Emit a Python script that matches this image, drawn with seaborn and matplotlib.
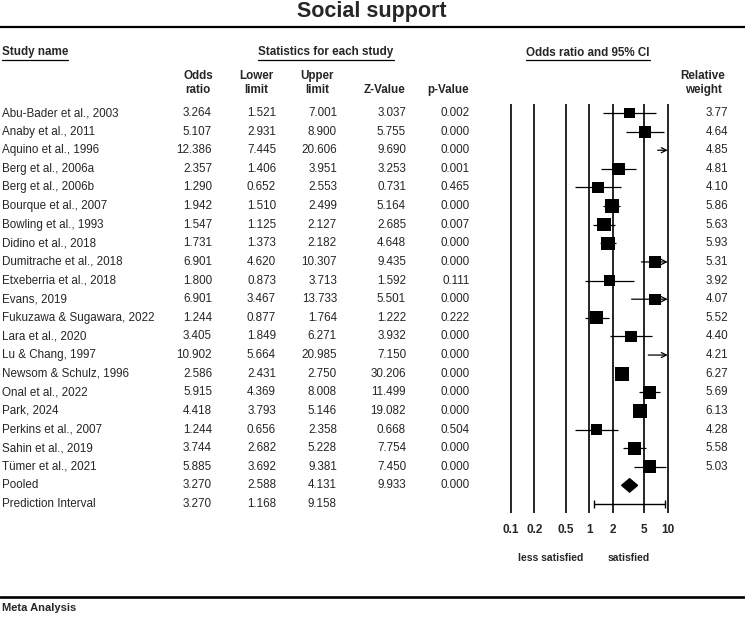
import numpy as np
import pandas as pd
import matplotlib
matplotlib.use("Agg")
import matplotlib.pyplot as plt
import matplotlib.transforms as mtransforms
from matplotlib.lines import Line2D
import seaborn as sns

studies = ["Abu-Bader et al., 2003", "Anaby et al., 2011", "Aquino et al., 1996",
           "Berg et al., 2006a", "Berg et al., 2006b", "Bourque et al., 2007",
           "Bowling et al., 1993", "Didino et al., 2018", "Dumitrache et al., 2018",
           "Etxeberria et al., 2018", "Evans, 2019", "Fukuzawa & Sugawara, 2022",
           "Lara et al., 2020", "Lu & Chang, 1997", "Newsom & Schulz, 1996",
           "Onal et al., 2022", "Park, 2024", "Perkins et al., 2007",
           "Sahin et al., 2019", "Tümer et al., 2021"]
odds_ratio = [3.264, 5.107, 12.386, 2.357, 1.290, 1.942, 1.547, 1.731, 6.901, 1.800,
              6.901, 1.244, 3.405, 10.902, 2.586, 5.915, 4.418, 1.244, 3.744, 5.885]
lower_limit = [1.521, 2.931, 7.445, 1.406, 0.652, 1.510, 1.125, 1.373, 4.620, 0.873,
               3.467, 0.877, 1.849, 5.664, 2.431, 4.369, 3.793, 0.656, 2.682, 3.692]
upper_limit = [7.001, 8.900, 20.606, 3.951, 2.553, 2.499, 2.127, 2.182, 10.307, 3.713,
               13.733, 1.764, 6.271, 20.985, 2.750, 8.008, 5.146, 2.358, 5.228, 9.381]
z_value = [3.037, 5.755, 9.690, 3.253, 0.731, 5.164, 2.685, 4.648, 9.435, 1.592,
           5.501, 1.222, 3.932, 7.150, 30.206, 11.499, 19.082, 0.668, 7.754, 7.450]
p_value = [0.002, 0.000, 0.000, 0.001, 0.465, 0.000, 0.007, 0.000, 0.000, 0.111,
           0.000, 0.222, 0.000, 0.000, 0.000, 0.000, 0.000, 0.504, 0.000, 0.000]
rel_weight = [3.77, 4.64, 4.85, 4.81, 4.10, 5.86, 5.63, 5.93, 5.31, 3.92,
              4.07, 5.52, 4.40, 4.21, 6.27, 5.69, 6.13, 4.28, 5.58, 5.03]

pooled = {"or": 3.270, "lo": 2.588, "hi": 4.131, "z": 9.933, "p": 0.000}
pred_interval = {"or": 3.270, "lo": 1.168, "hi": 9.158}

tick_vals = [0.1, 0.2, 0.5, 1, 2, 5, 10]
tick_labels = ["0.1", "0.2", "0.5", "1", "2", "5", "10"]

W, H = 745, 622
sns.set_style("white")
plt.rcParams["font.family"] = ["Liberation Sans", "DejaVu Sans"]

fig = plt.figure(figsize=(W / 100, H / 100), dpi=100)


def fx(px):
    return px / W


def fy(py):
    return 1 - py / H


# Ejes del forest plot (escala log)
dec = 78.5
x_left, x_right = 510.7 - 0.06 * dec, 667.7 + 0.06 * dec
y_top, y_bot = 104, 513
ax = fig.add_axes([fx(x_left), fy(y_bot), (x_right - x_left) / W, (y_bot - y_top) / H])
row_h = (504 - 113) / 21
ax.set_xscale("log")
ax.set_xlim(10 ** -1.06, 10 ** 1.06)
ax.set_ylim(21 + (y_bot - 504) / row_h, -(113 - y_top) / row_h)
for s in ax.spines.values():
    s.set_visible(False)
ax.set_yticks([])
ax.set_xticks(tick_vals)
ax.set_xticklabels(tick_labels, fontweight="bold", fontsize=8.5)
ax.minorticks_off()
ax.tick_params(axis="x", length=0, pad=8)
ax.patch.set_alpha(0)

for v in tick_vals:
    ax.axvline(v, color="black", lw=1.2, zorder=1)

df = pd.DataFrame({"study": studies, "or": odds_ratio, "lo": lower_limit,
                   "hi": upper_limit, "w": rel_weight})
df["row"] = np.arange(len(df))
xmax = 10

# Intervalos de confianza
for _, r in df.iterrows():
    if r["hi"] > xmax:
        ax.annotate("", xy=(xmax, r["row"]), xytext=(r["lo"], r["row"]),
                    arrowprops=dict(arrowstyle="->", lw=0.9, color="black",
                                    shrinkA=0, shrinkB=0, mutation_scale=9))
    else:
        ax.hlines(r["row"], r["lo"], r["hi"], color="black", lw=0.9, zorder=2)

# Cuadrados proporcionales al peso
vis = df[df["or"] <= xmax].copy()
side_pt = 14 * np.sqrt(vis["w"] / max(rel_weight)) * 0.72
sns.scatterplot(x=vis["or"], y=vis["row"], s=(side_pt ** 2).values, marker="s",
                color="black", linewidth=0, ax=ax, legend=False, zorder=3)
ax.set_xlabel("")
ax.set_ylabel("")

# Diamante combinado
pr = len(studies)
dh = 0.36
ax.fill([pooled["lo"], pooled["or"], pooled["hi"], pooled["or"]],
        [pr, pr - dh, pr, pr + dh], color="black", zorder=3)

# Intervalo de predicción
ir = pr + 1
ax.errorbar(pred_interval["or"], ir,
            xerr=[[pred_interval["or"] - pred_interval["lo"]],
                  [pred_interval["hi"] - pred_interval["or"]]],
            fmt="none", ecolor="black", elinewidth=1, capsize=3, capthick=1, zorder=3)

# Tabla de texto
tr = mtransforms.blended_transform_factory(fig.transFigure, ax.transData)
fs = 8.4
names = studies + ["Pooled", "Prediction Interval"]
col_or = [f"{v:.3f}" for v in odds_ratio] + [f"{pooled['or']:.3f}", f"{pred_interval['or']:.3f}"]
col_lo = [f"{v:.3f}" for v in lower_limit] + [f"{pooled['lo']:.3f}", f"{pred_interval['lo']:.3f}"]
col_hi = [f"{v:.3f}" for v in upper_limit] + [f"{pooled['hi']:.3f}", f"{pred_interval['hi']:.3f}"]
col_z = [f"{v:.3f}" for v in z_value] + [f"{pooled['z']:.3f}", ""]
col_p = [f"{v:.3f}" for v in p_value] + [f"{pooled['p']:.3f}", ""]
col_w = [f"{v:.2f}" for v in rel_weight] + ["", ""]

for i, name in enumerate(names):
    ax.text(fx(2), i, name, transform=tr, ha="left", va="center", fontsize=fs, clip_on=False)
    for xr, col in [(212, col_or), (276, col_lo), (337, col_hi), (406, col_z),
                    (470, col_p), (728, col_w)]:
        ax.text(fx(xr), i, col[i], transform=tr, ha="right", va="center",
                fontsize=fs, clip_on=False)

# Títulos y encabezados
fig.text(fx(372), fy(11), "Social support", ha="center", va="center",
         fontsize=15.5, fontweight="bold")
fig.add_artist(Line2D([0, 1], [fy(27), fy(27)], color="black", lw=1.6))
fig.add_artist(Line2D([0, 1], [fy(597), fy(597)], color="black", lw=1.9))
fig.text(fx(2), fy(608), "Meta Analysis", ha="left", va="center",
         fontsize=8, fontweight="bold")

hdrs = []
hdrs.append(fig.text(fx(2), fy(52.5), "Study name", ha="left", va="center",
                     fontsize=fs, fontweight="bold"))
hdrs.append(fig.text(fx(326), fy(52.5), "Statistics for each study", ha="center",
                     va="center", fontsize=fs, fontweight="bold"))
hdrs.append(fig.text(fx(588), fy(52.5), "Odds ratio and 95% CI", ha="center",
                     va="center", fontsize=fs, fontweight="bold"))

for xc, lab in [(198, "Odds\nratio"), (256, "Lower\nlimit"), (317, "Upper\nlimit"),
                (703, "Relative\nweight")]:
    fig.text(fx(xc), fy(83), lab, ha="center", va="center", fontsize=fs,
             fontweight="bold", linespacing=1.15)
for xc, lab in [(384, "Z-Value"), (448, "p-Value")]:
    fig.text(fx(xc), fy(90), lab, ha="center", va="center", fontsize=fs,
             fontweight="bold")

fig.text(fx(551), fy(558), "less satisfied", ha="center", va="center",
         fontsize=7.5, fontweight="bold")
fig.text(fx(629), fy(558), "satisfied", ha="center", va="center",
         fontsize=7.5, fontweight="bold")

# Subrayado de los encabezados
fig.canvas.draw()
renderer = fig.canvas.get_renderer()
for t in hdrs:
    bb = t.get_window_extent(renderer).transformed(fig.transFigure.inverted())
    fig.add_artist(Line2D([bb.x0, bb.x1], [fy(60), fy(60)], color="black", lw=0.9))

fig.savefig("out.png", dpi=100)
plt.close(fig)
